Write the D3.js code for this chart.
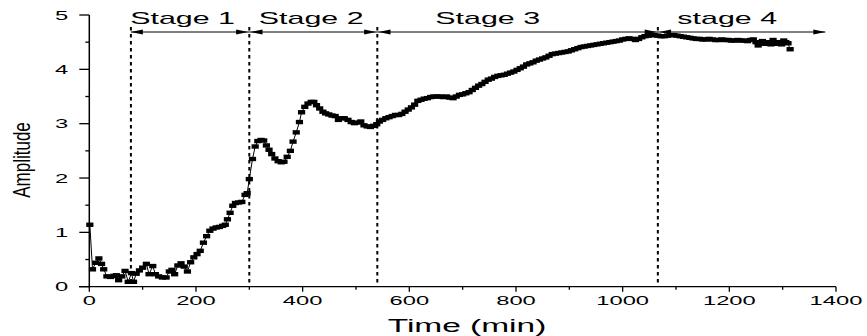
<!DOCTYPE html>
<html>
<head>
<meta charset="utf-8">
<script src="https://cdn.jsdelivr.net/npm/d3@7"></script>
<style>
  body { margin: 0; background: #fff; }
  svg { display: block; font-family: "Liberation Sans", Arial, sans-serif; }
</style>
</head>
<body>
<svg id="chart" width="867" height="336"></svg>
<script>
// time in minutes, amplitude
const times = [
  1, 6, 12, 18, 23, 27, 33, 40, 46, 51, 55, 61, 67, 73, 79, 83, 88, 94, 100, 107,
  112, 119, 124, 130, 137, 144, 150, 155, 160, 166, 172, 178, 184, 190, 196, 202, 208, 214, 220, 226,
  232, 238, 244, 250, 255, 259, 264, 269, 274, 280, 286, 292, 296, 300, 306, 311, 316, 322, 327, 332,
  337, 342, 348, 354, 360, 365, 371, 377, 382, 388, 394, 398, 404, 410, 416, 421, 426, 432, 438, 443,
  449, 455, 461, 467, 472, 478, 485, 491, 497, 503, 509, 515, 521, 527, 533, 539, 544, 550, 556, 562,
  568, 574, 580, 586, 592, 598, 604, 610, 616, 622, 628, 634, 640, 646, 652, 658, 664, 670, 676, 682,
  688, 694, 700, 706, 712, 718, 724, 730, 736, 742, 748, 754, 760, 766, 772, 778, 784, 790, 796, 802,
  808, 814, 820, 826, 832, 838, 844, 850, 856, 862, 868, 874, 880, 886, 892, 898, 904, 910, 916, 922,
  928, 934, 940, 946, 952, 958, 964, 970, 976, 982, 988, 994, 1000, 1006, 1012, 1018, 1024, 1030, 1036, 1042,
  1048, 1054, 1060, 1066, 1072, 1078, 1084, 1090, 1096, 1102, 1108, 1114, 1120, 1126, 1132, 1138, 1144, 1150, 1156, 1162,
  1168, 1174, 1180, 1186, 1192, 1198, 1204, 1210, 1216, 1222, 1228, 1234, 1240, 1245, 1250, 1254, 1258, 1262, 1266, 1270,
  1274, 1278, 1282, 1286, 1290, 1294, 1298, 1302, 1306, 1310, 1314
];
const amplitude = [
  1.14, 0.32, 0.44, 0.52, 0.42, 0.32, 0.19, 0.18, 0.20, 0.21, 0.12, 0.19, 0.29, 0.09, 0.25, 0.09, 0.24, 0.30, 0.35, 0.42,
  0.23, 0.38, 0.23, 0.19, 0.17, 0.17, 0.28, 0.31, 0.23, 0.39, 0.43, 0.37, 0.28, 0.45, 0.54, 0.60, 0.66, 0.81, 0.93, 1.03,
  1.07, 1.09, 1.10, 1.12, 1.14, 1.24, 1.36, 1.49, 1.54, 1.55, 1.56, 1.69, 1.72, 1.98, 2.35, 2.58, 2.68, 2.70, 2.69, 2.60,
  2.52, 2.44, 2.36, 2.31, 2.29, 2.30, 2.39, 2.50, 2.67, 2.84, 3.03, 3.21, 3.31, 3.37, 3.40, 3.40, 3.34, 3.28, 3.22, 3.19,
  3.17, 3.15, 3.14, 3.07, 3.10, 3.10, 3.07, 3.03, 3.01, 3.02, 3.04, 2.97, 2.95, 2.94, 2.96, 2.99, 3.04, 3.07, 3.10, 3.12,
  3.14, 3.16, 3.16, 3.18, 3.22, 3.26, 3.30, 3.35, 3.42, 3.44, 3.46, 3.47, 3.49, 3.50, 3.50, 3.50, 3.49, 3.50, 3.48, 3.47,
  3.50, 3.53, 3.54, 3.56, 3.58, 3.62, 3.66, 3.70, 3.73, 3.77, 3.81, 3.83, 3.86, 3.88, 3.89, 3.90, 3.92, 3.94, 3.96, 3.99,
  4.02, 4.05, 4.09, 4.11, 4.13, 4.16, 4.18, 4.20, 4.22, 4.25, 4.28, 4.29, 4.30, 4.31, 4.32, 4.33, 4.35, 4.37, 4.39, 4.41,
  4.42, 4.43, 4.44, 4.45, 4.46, 4.47, 4.48, 4.49, 4.50, 4.51, 4.52, 4.53, 4.55, 4.56, 4.57, 4.56, 4.54, 4.56, 4.59, 4.61,
  4.62, 4.63, 4.63, 4.62, 4.61, 4.61, 4.62, 4.63, 4.63, 4.62, 4.61, 4.60, 4.59, 4.58, 4.57, 4.56, 4.56, 4.55, 4.55, 4.56,
  4.55, 4.54, 4.54, 4.55, 4.54, 4.54, 4.53, 4.53, 4.54, 4.53, 4.53, 4.52, 4.54, 4.55, 4.50, 4.44, 4.49, 4.52, 4.47, 4.50,
  4.49, 4.46, 4.54, 4.50, 4.47, 4.50, 4.46, 4.53, 4.50, 4.48, 4.37
];

// stage boundaries (min) and labels
const stageBounds = [78, 300, 540, 1066];
const stageEnd = 1380;
const stageLabels = ["Stage 1", "Stage 2", "Stage 3", "stage 4"];
const stageLabelAt = [175, 416, 747, 1196];

const xTicks = [0, 200, 400, 600, 800, 1000, 1200, 1400];
const yTicks = [0, 1, 2, 3, 4, 5];

const svg = d3.select("#chart");
const x = d3.scaleLinear().domain([0, 1400]).range([89.3, 836]);
const y = d3.scaleLinear().domain([0, 5]).range([286.7, 15]);
const sx = 1.9; // the whole figure is stretched horizontally

// x axis
const xAxis = svg.append("g").attr("transform", "translate(0,286.7)");
xAxis.append("line")
  .attr("x1", 79).attr("x2", x(1400)).attr("stroke", "#000").attr("stroke-width", 1.3);
xAxis.selectAll(".minor").data(d3.range(100, 1400, 200)).enter().append("line")
  .attr("x1", d => x(d)).attr("x2", d => x(d)).attr("y1", 0).attr("y2", 3)
  .attr("stroke", "#000").attr("stroke-width", 1.3);
xAxis.selectAll(".major").data(xTicks).enter().append("line")
  .attr("x1", d => x(d)).attr("x2", d => x(d)).attr("y1", 0).attr("y2", 5)
  .attr("stroke", "#000").attr("stroke-width", 1.3);
xAxis.selectAll("text").data(xTicks).enter().append("text")
  .attr("transform", d => `translate(${x(d)},18.5) scale(${sx},1)`)
  .attr("text-anchor", "middle").attr("font-size", 12.5).text(d => d);

// y axis
const yAxis = svg.append("g").attr("transform", "translate(89.3,0)");
yAxis.append("line")
  .attr("y1", y(5)).attr("y2", y(0)).attr("stroke", "#000").attr("stroke-width", 1.5);
yAxis.selectAll(".minor").data(d3.range(0.5, 5, 1)).enter().append("line")
  .attr("y1", d => y(d)).attr("y2", d => y(d)).attr("x1", -4).attr("x2", 0)
  .attr("stroke", "#000").attr("stroke-width", 1.3);
yAxis.selectAll(".major").data(yTicks).enter().append("line")
  .attr("y1", d => y(d)).attr("y2", d => y(d)).attr("x1", -10).attr("x2", 0)
  .attr("stroke", "#000").attr("stroke-width", 1.3);
yAxis.selectAll("text").data(yTicks).enter().append("text")
  .attr("transform", d => `translate(-21,${y(d) + 4.5}) scale(${sx},1)`)
  .attr("text-anchor", "end").attr("font-size", 12.5).text(d => d);

// axis titles
svg.append("text")
  .attr("transform", `translate(467,332) scale(1.86,1)`)
  .attr("text-anchor", "middle").attr("font-size", 18).text("Time (min)");
svg.append("text")
  .attr("transform", `translate(21,160) scale(1.45,1) rotate(-90)`)
  .attr("text-anchor", "middle").attr("dy", "0.35em").attr("font-size", 17).text("Amplitude");

// stage dividers
svg.selectAll(".divider").data(stageBounds).enter().append("line")
  .attr("x1", d => x(d)).attr("x2", d => x(d)).attr("y1", 27).attr("y2", y(0))
  .attr("stroke", "#000").attr("stroke-width", 2).attr("stroke-dasharray", "3.5,3.5");

// stage arrows
const arrowY = 32;
svg.append("line")
  .attr("x1", x(stageBounds[0])).attr("x2", x(stageEnd))
  .attr("y1", arrowY).attr("y2", arrowY).attr("stroke", "#000").attr("stroke-width", 1);
const heads = [];
stageBounds.forEach((b, i) => {
  const next = i < stageBounds.length - 1 ? stageBounds[i + 1] : stageEnd;
  heads.push({ t: b, dir: -1, gap: i === 0 ? 0 : 1.2 });
  heads.push({ t: next, dir: 1, gap: i === stageBounds.length - 1 ? 0 : 1.2 });
});
svg.selectAll(".head").data(heads).enter().append("path")
  .attr("d", d => {
    const tip = x(d.t) - d.dir * d.gap;
    const base = tip - d.dir * 12;
    return `M${tip},${arrowY}L${base},${arrowY - 2.6}L${base},${arrowY + 2.6}Z`;
  })
  .attr("fill", "#000");
svg.selectAll(".stage").data(stageLabels).enter().append("text")
  .attr("transform", (d, i) => `translate(${x(stageLabelAt[i])},23.5) scale(${sx},1)`)
  .attr("text-anchor", "middle").attr("font-size", 16).text(d => d);

// data line and markers
const pts = times.map((t, i) => [t, amplitude[i]]);
svg.append("path")
  .datum(pts)
  .attr("d", d3.line().x(d => x(d[0])).y(d => y(d[1])))
  .attr("fill", "none").attr("stroke", "#000").attr("stroke-width", 1);
svg.selectAll(".pt").data(pts).enter().append("rect")
  .attr("x", d => x(d[0]) - 3.6).attr("y", d => y(d[1]) - 2.2)
  .attr("width", 7.2).attr("height", 4.4).attr("fill", "#000");
</script>
</body>
</html>
